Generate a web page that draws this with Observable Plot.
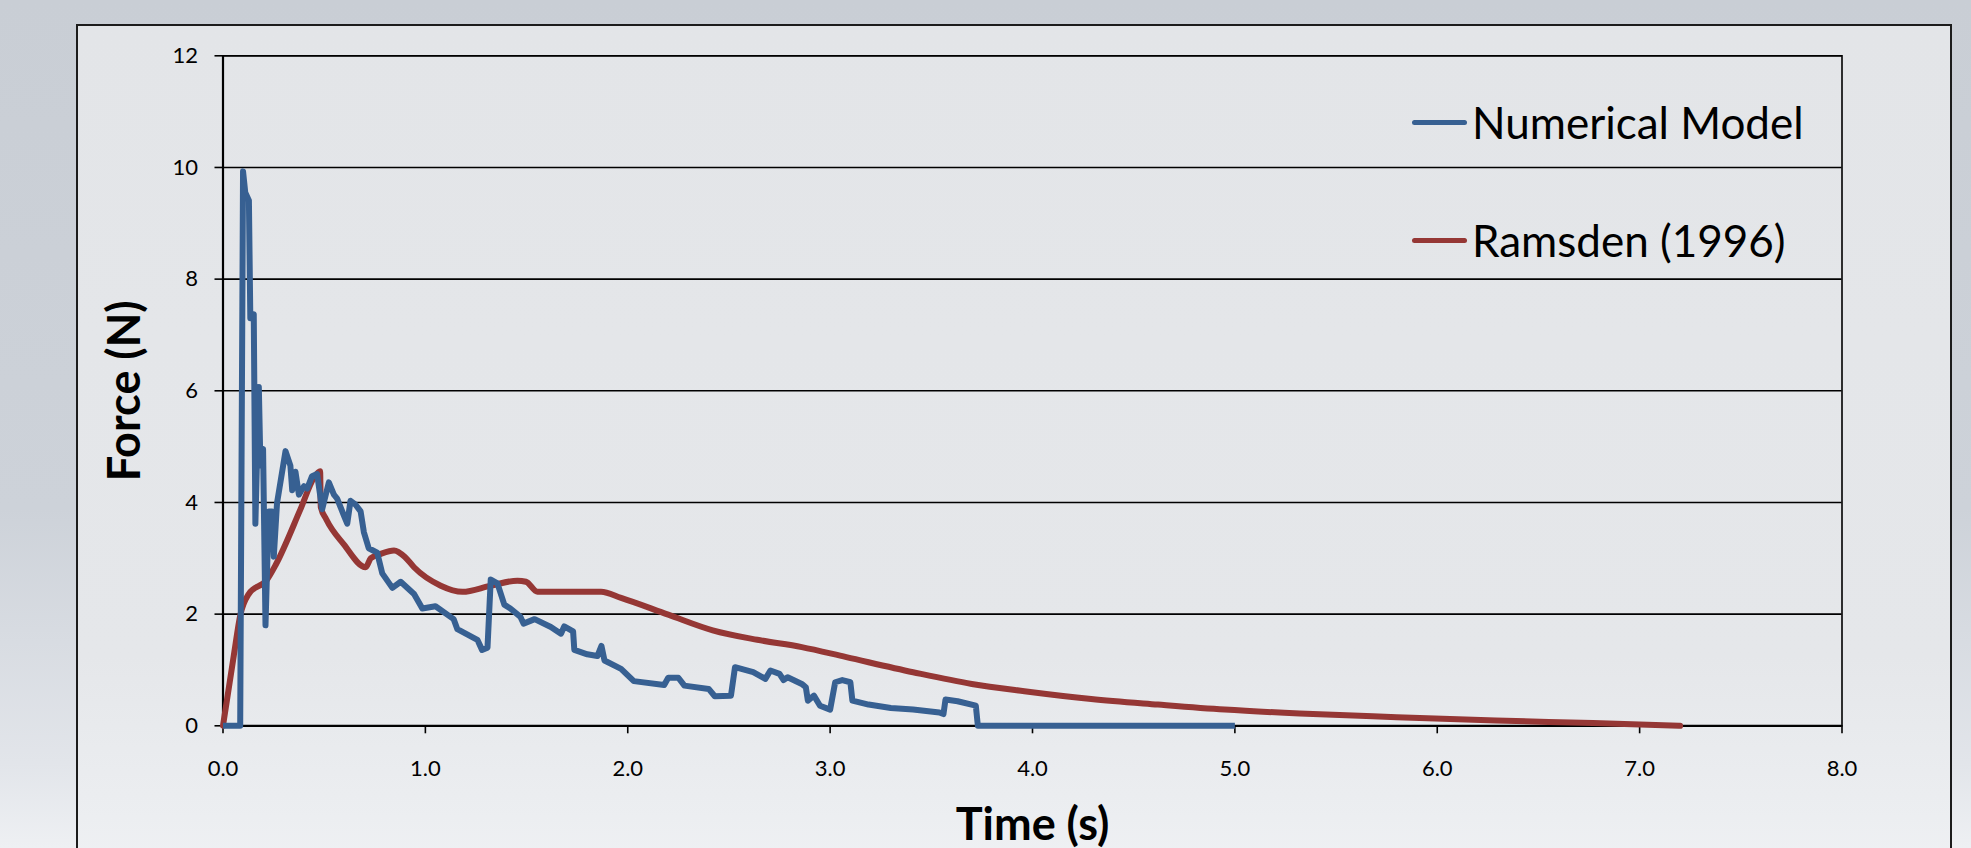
<!DOCTYPE html>
<html>
<head>
<meta charset="utf-8">
<script src="https://cdn.jsdelivr.net/npm/d3@7"></script>
<script src="https://cdn.jsdelivr.net/npm/@observablehq/plot@0.6"></script>
<style>
  html, body { margin: 0; padding: 0; }
  body {
    width: 1971px; height: 848px; overflow: hidden; position: relative;
    background: linear-gradient(to bottom, #c9ced5 0%, #cdd2d9 60%, #e2e5ea 90%, #eef0f3 100%);
    font-family: Lato, "Liberation Sans", sans-serif;
  }
  #panel {
    position: absolute; left: 76px; top: 24px; width: 1872px; height: 900px;
    border: 2px solid #1c1c1c;
    background: linear-gradient(to bottom, #e3e5e8 0%, #e5e7ea 70%, #eceef1 88%, #f3f4f6 100%);
  }
  #chart { position: absolute; left: 0; top: 0; }
  .leg { position: absolute; display: flex; align-items: center; font-size: 44px; color: #000; white-space: nowrap; }
  .leg .sw { width: 55px; height: 5px; border-radius: 3px; margin-right: 5px; }
</style>
</head>
<body>
<div id="panel"></div>
<div id="chart"></div>
<div id="legend"></div>
<script>
// Series: Numerical Model (time s, force N)
const numericalTime = [0,0.085,0.099,0.11,0.128,0.135,0.152,0.16,0.177,0.185,0.198,0.21,0.226,0.243,0.251,0.267,0.309,0.333,0.342,0.358,0.375,0.4,0.416,0.44,0.465,0.49,0.523,0.548,0.564,0.597,0.614,0.63,0.655,0.68,0.696,0.72,0.762,0.787,0.837,0.878,0.944,0.985,1.05,1.14,1.158,1.257,1.28,1.307,1.323,1.356,1.39,1.42,1.47,1.485,1.54,1.62,1.67,1.686,1.73,1.736,1.8,1.85,1.87,1.885,1.967,2.03,2.18,2.2,2.25,2.28,2.4,2.43,2.51,2.53,2.62,2.68,2.705,2.75,2.77,2.79,2.86,2.88,2.89,2.92,2.95,3.0,3.025,3.06,3.10,3.11,3.19,3.30,3.41,3.54,3.56,3.57,3.63,3.72,3.73,5.0];
const numericalForce = [0,0,9.93,9.55,9.41,7.3,7.37,3.62,6.07,4.66,4.96,1.8,3.84,3.84,3.03,3.99,4.92,4.66,4.22,4.55,4.14,4.29,4.25,4.47,4.51,3.88,4.36,4.14,4.07,3.77,3.62,4.03,3.96,3.84,3.47,3.18,3.10,2.73,2.47,2.58,2.36,2.10,2.14,1.91,1.73,1.54,1.36,1.40,2.62,2.55,2.17,2.10,1.95,1.83,1.91,1.77,1.65,1.78,1.69,1.36,1.28,1.25,1.43,1.17,1.02,0.80,0.73,0.86,0.86,0.72,0.66,0.53,0.54,1.05,0.96,0.84,0.99,0.93,0.82,0.87,0.75,0.69,0.45,0.54,0.36,0.29,0.78,0.82,0.78,0.45,0.38,0.32,0.29,0.24,0.21,0.47,0.44,0.36,0,0];

// Series: Ramsden (1996)
const ramsdenTime = [0,0.053,0.086,0.127,0.218,0.26,0.383,0.449,0.48,0.483,0.51,0.597,0.705,0.73,0.78,0.845,0.9,0.944,1.076,1.183,1.323,1.455,1.497,1.554,1.70,1.868,1.967,2.2,2.42,2.64,2.86,3.08,3.41,3.70,3.96,4.29,4.62,4.95,5.32,5.80,6.29,6.77,7.2];
const ramsdenForce = [0,1.25,1.99,2.36,2.62,2.88,3.88,4.44,4.56,3.92,3.7,3.25,2.84,3.0,3.08,3.14,3.02,2.84,2.51,2.40,2.51,2.60,2.58,2.40,2.40,2.40,2.29,1.99,1.71,1.54,1.41,1.23,0.96,0.75,0.62,0.48,0.38,0.29,0.22,0.155,0.095,0.048,0.0];

const seriesNames = ["Numerical Model", "Ramsden (1996)"];
const seriesColors = ["#376092", "#953735"];
const xTicks = [0,1,2,3,4,5,6,7,8];
const yTicks = [0,2,4,6,8,10,12];
const xTitle = "Time (s)";
const yTitle = "Force (N)";

const numerical = numericalTime.map((t, i) => ({t, f: numericalForce[i]}));
const ramsden = ramsdenTime.map((t, i) => ({t, f: ramsdenForce[i]}));

const font = "Lato, 'Liberation Sans', sans-serif";

const chart = Plot.plot({
  width: 1971,
  height: 848,
  marginLeft: 222.5,
  marginRight: 129.5,
  marginTop: 55.3,
  marginBottom: 122.7,
  style: { background: "transparent", fontFamily: font, color: "#000", overflow: "visible" },
  x: { domain: [0, 8] },
  y: { domain: [0, 12] },
  marks: [
    Plot.gridY(yTicks, { stroke: "#000", strokeOpacity: 1, strokeWidth: 1.6 }),
    Plot.frame({ stroke: "#000", strokeWidth: 1.6 }),
    Plot.axisY(yTicks, { tickSize: 8, tickPadding: 17, fontSize: 22, tickFormat: d => String(d), label: null, strokeWidth: 1.6 }),
    Plot.axisX(xTicks, { tickSize: 8, tickPadding: 27, fontSize: 22, tickFormat: d => d.toFixed(1), label: null, strokeWidth: 1.6 }),
    Plot.ruleY([0], { stroke: "#000", strokeWidth: 2.2 }),
    Plot.ruleX([0], { stroke: "#000", strokeWidth: 2.2 }),
    Plot.line(ramsden, { x: "t", y: "f", stroke: seriesColors[1], strokeWidth: 6, curve: "monotone-x", strokeLinejoin: "round", strokeLinecap: "round" }),
    Plot.line(numerical, { x: "t", y: "f", stroke: seriesColors[0], strokeWidth: 6, strokeLinejoin: "round", strokeLinecap: "butt" }),
    Plot.text([yTitle], { text: d => d, frameAnchor: "left", dx: -97, rotate: -90, fontSize: 45, fontWeight: "bold", textAnchor: "middle", lineAnchor: "middle", fill: "#000" }),
    Plot.text([xTitle], { text: d => d, frameAnchor: "bottom", dy: 100, fontSize: 45, fontWeight: "bold", textAnchor: "middle", lineAnchor: "middle", fill: "#000" })
  ]
});
document.getElementById("chart").appendChild(chart);

// Legend (HTML, placed inside plot area at upper right)
const legend = document.getElementById("legend");
const legTops = [122, 240];
seriesNames.forEach((name, i) => {
  const row = document.createElement("div");
  row.className = "leg";
  row.style.left = "1412px";
  row.style.top = (legTops[i] - 30) + "px";
  row.style.height = "60px";
  const sw = document.createElement("div");
  sw.className = "sw";
  sw.style.background = seriesColors[i];
  const tx = document.createElement("span");
  tx.textContent = name;
  row.appendChild(sw);
  row.appendChild(tx);
  legend.appendChild(row);
});
</script>
</body>
</html>
